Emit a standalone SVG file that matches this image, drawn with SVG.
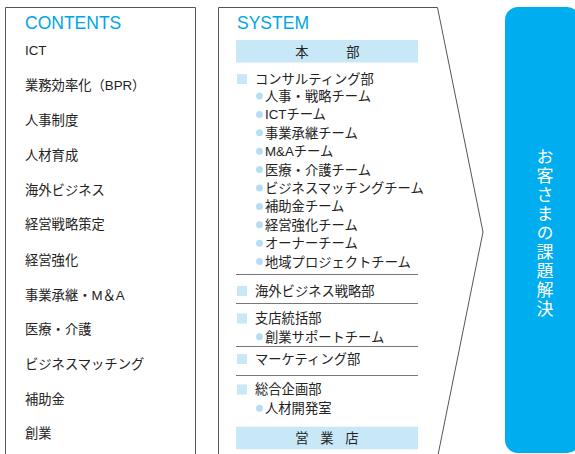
<svg xmlns="http://www.w3.org/2000/svg" width="575" height="454" viewBox="0 0 575 454">
<style>
text{font-family:"Liberation Sans","Noto Sans CJK JP",sans-serif;fill:#222;font-size:13.3px}
.h{fill:#00a5e8;font-size:17.5px}
.frame{fill:none;stroke:#555;stroke-width:1}
.bar{fill:#c8e8f8}
.sq{fill:#c8e8f8}
.dot{fill:#b5def5}
.sep{stroke:#777;stroke-width:1}
.w{fill:#fff;font-size:17px}
</style>
<rect x="0" y="0" width="575" height="454" fill="#fff"/>
<g id="contents">
<path class="frame" d="M5.5,460 V7.5 H195.5 V460"/>
<text class="h" x="25" y="29">CONTENTS</text>
<text x="25" y="55">ICT</text>
<text x="25" y="90">業務効率化（BPR）</text>
<text x="25" y="125">人事制度</text>
<text x="25" y="160">人材育成</text>
<text x="25" y="194.5">海外ビジネス</text>
<text x="25" y="229">経営戦略策定</text>
<text x="25" y="264.5">経営強化</text>
<text x="25" y="299.5">事業承継・M＆A</text>
<text x="25" y="334.3">医療・介護</text>
<text x="25" y="369">ビジネスマッチング</text>
<text x="25" y="403.5">補助金</text>
<text x="25" y="438.3">創業</text>
</g>
<g id="system">
<path class="frame" d="M218.5,460 V7.5 H437.5 L483,232 L437,460"/>
<text class="h" x="237" y="29">SYSTEM</text>
<g id="honbu">
<rect class="bar" x="236" y="40" width="182" height="22.5"/>
<text x="302 353" y="56.5" text-anchor="middle">本部</text>
</g>
<g id="consulting">
<rect class="sq" x="237" y="74" width="10" height="10"/>
<text x="255" y="84">コンサルティング部</text>
<circle class="dot" cx="259.5" cy="96" r="3.5"/><text x="265" y="101">人事・戦略チーム</text>
<circle class="dot" cx="259.5" cy="114.4" r="3.5"/><text x="265" y="119.4">ICTチーム</text>
<circle class="dot" cx="259.5" cy="132.8" r="3.5"/><text x="265" y="137.8">事業承継チーム</text>
<circle class="dot" cx="259.5" cy="151.2" r="3.5"/><text x="265" y="156.2">M&amp;Aチーム</text>
<circle class="dot" cx="259.5" cy="169.6" r="3.5"/><text x="265" y="174.6">医療・介護チーム</text>
<circle class="dot" cx="259.5" cy="188" r="3.5"/><text x="265" y="193">ビジネスマッチングチーム</text>
<circle class="dot" cx="259.5" cy="206.4" r="3.5"/><text x="265" y="211.4">補助金チーム</text>
<circle class="dot" cx="259.5" cy="224.8" r="3.5"/><text x="265" y="229.8">経営強化チーム</text>
<circle class="dot" cx="259.5" cy="243.2" r="3.5"/><text x="265" y="248.2">オーナーチーム</text>
<circle class="dot" cx="259.5" cy="261.6" r="3.5"/><text x="265" y="266.6">地域プロジェクトチーム</text>
</g>
<g id="seps">
<line class="sep" x1="236" y1="274.5" x2="418" y2="274.5"/>
<line class="sep" x1="236" y1="303.5" x2="418" y2="303.5"/>
<line class="sep" x1="236" y1="346.5" x2="418" y2="346.5"/>
<line class="sep" x1="236" y1="375.5" x2="418" y2="375.5"/>
</g>
<g id="kaigai">
<rect class="sq" x="237" y="286" width="10" height="10"/>
<text x="255" y="296">海外ビジネス戦略部</text>
</g>
<g id="shiten">
<rect class="sq" x="237" y="313.5" width="10" height="10"/>
<text x="255" y="323.3">支店統括部</text>
<circle class="dot" cx="259.5" cy="336.7" r="3.5"/><text x="265" y="341.7">創業サポートチーム</text>
</g>
<g id="marketing">
<rect class="sq" x="237" y="354" width="10" height="10"/>
<text x="255" y="364">マーケティング部</text>
</g>
<g id="sogo">
<rect class="sq" x="237" y="384.5" width="10" height="10"/>
<text x="255" y="394.3">総合企画部</text>
<circle class="dot" cx="259.5" cy="408.3" r="3.5"/><text x="265" y="413.3">人材開発室</text>
</g>
<g id="eigyo">
<rect class="bar" x="236" y="426.7" width="182" height="22.6"/>
<text x="302 327 352" y="443" text-anchor="middle">営業店</text>
</g>
</g>
<g id="solution">
<rect x="505" y="7" width="75" height="446" rx="13" fill="#00adee"/>
<text class="w" x="543" y="148" style="writing-mode:vertical-rl;letter-spacing:2px">お客さまの課題解決</text>
</g>
</svg>
